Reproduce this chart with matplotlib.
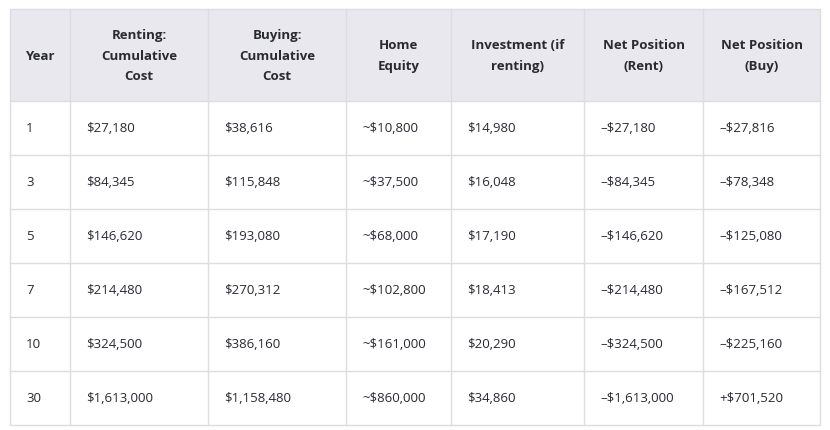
import matplotlib
matplotlib.use("Agg")
import matplotlib.pyplot as plt
from matplotlib.patches import Rectangle, FancyBboxPatch

headers = ["Year", "Renting:\nCumulative\nCost", "Buying:\nCumulative\nCost", "Home\nEquity",
           "Investment (if\nrenting)", "Net Position\n(Rent)", "Net Position\n(Buy)"]
years = ["1", "3", "5", "7", "10", "30"]
renting = ["$27,180", "$84,345", "$146,620", "$214,480", "$324,500", "$1,613,000"]
buying = ["$38,616", "$115,848", "$193,080", "$270,312", "$386,160", "$1,158,480"]
equity = ["~$10,800", "~$37,500", "~$68,000", "~$102,800", "~$161,000", "~$860,000"]
invest = ["$14,980", "$16,048", "$17,190", "$18,413", "$20,290", "$34,860"]
net_rent = ["\u2013$27,180", "\u2013$84,345", "\u2013$146,620", "\u2013$214,480", "\u2013$324,500", "\u2013$1,613,000"]
net_buy = ["\u2013$27,816", "\u2013$78,348", "\u2013$125,080", "\u2013$167,512", "\u2013$225,160", "+$701,520"]
columns = [years, renting, buying, equity, invest, net_rent, net_buy]

col_edges = [10, 70, 208, 346, 451, 584, 703, 820]
top, header_h, row_h = 10, 92, 54

W, H = 830, 431
fig = plt.figure(figsize=(W / 100, H / 100), dpi=100)
ax = fig.add_axes([0, 0, 1, 1])
ax.set_xlim(0, W)
ax.set_ylim(H, 0)
ax.axis("off")
plt.rcParams["font.family"] = "Open Sans"

line_c = "#dcdce2"
bottom = top + header_h + row_h * len(years)
ax.add_patch(Rectangle((col_edges[0], top), col_edges[-1] - col_edges[0], header_h,
                       facecolor="#e8e8ee", edgecolor="none"))
ax.add_patch(Rectangle((col_edges[0], top), col_edges[-1] - col_edges[0], bottom - top,
                       facecolor="none", edgecolor=line_c, lw=1))
for x in col_edges[1:-1]:
    ax.plot([x, x], [top, bottom], color=line_c, lw=1)
for i in range(len(years)):
    y = top + header_h + row_h * i
    ax.plot([col_edges[0], col_edges[-1]], [y, y], color=line_c, lw=1)

for j, h in enumerate(headers):
    cx = (col_edges[j] + col_edges[j + 1]) / 2
    ax.text(cx, top + header_h / 2, h, ha="center", va="center", fontsize=9.5,
            fontweight="bold", color="#2a2a33", linespacing=1.75)

for j, col in enumerate(columns):
    for i, v in enumerate(col):
        y = top + header_h + row_h * i + row_h / 2
        ax.text(col_edges[j] + 16, y, v, ha="left", va="center", fontsize=9.5, color="#2a2a33")

fig.savefig("out.png", dpi=100, facecolor="white")
